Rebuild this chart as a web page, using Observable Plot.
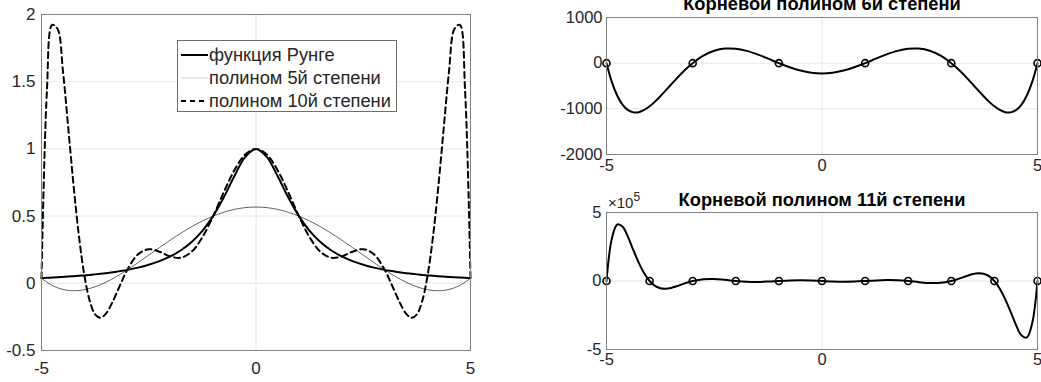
<!DOCTYPE html>
<html>
<head>
<meta charset="utf-8">
<script src="https://cdn.jsdelivr.net/npm/d3@7"></script>
<script src="https://cdn.jsdelivr.net/npm/@observablehq/plot@0.6"></script>
<style>
  body { margin: 0; background: #fff; }
  #wrap { position: relative; width: 1041px; height: 382px; overflow: hidden; background: #fff;
          font-family: "Liberation Sans", Arial, Helvetica, sans-serif; }
  .panel { position: absolute; }
  .panel svg { display: block; }
</style>
</head>
<body>
<div id="wrap"></div>
<script>
// ---- data ----
const xs = [-5,-4.875,-4.75,-4.625,-4.5,-4.375,-4.25,-4.125,-4,-3.875,-3.75,-3.625,-3.5,-3.375,-3.25,-3.125,-3,
  -2.75,-2.5,-2.25,-2,-1.75,-1.5,-1.25,-1,-0.75,-0.5,-0.25,0,0.25,0.5,0.75,1,1.25,1.5,1.75,2,2.25,2.5,2.75,
  3,3.125,3.25,3.375,3.5,3.625,3.75,3.875,4,4.125,4.25,4.375,4.5,4.625,4.75,4.875,5];

const runge = [0.0385,0.0404,0.0424,0.0447,0.0471,0.0497,0.0525,0.0555,0.0588,0.0624,0.0664,0.0707,0.0755,0.0807,0.0865,0.0929,0.1,
  0.1168,0.1379,0.1649,0.2,0.2462,0.3077,0.3902,0.5,0.64,0.8,0.9412,1,0.9412,0.8,0.64,0.5,0.3902,0.3077,0.2462,0.2,0.1649,0.1379,0.1168,
  0.1,0.0929,0.0865,0.0807,0.0755,0.0707,0.0664,0.0624,0.0588,0.0555,0.0525,0.0497,0.0471,0.0447,0.0424,0.0404,0.0385];

const poly5 = [0.0385,0.0082,-0.0157,-0.0337,-0.0460,-0.0533,-0.0558,-0.0539,-0.0481,-0.0386,-0.0260,-0.0104,0.0078,0.0282,0.0506,0.0746,0.1,
  0.1537,0.2097,0.2661,0.3212,0.3733,0.4213,0.4638,0.5,0.5290,0.5501,0.5630,0.5673,0.5630,0.5501,0.5290,0.5,0.4638,0.4213,0.3733,0.3212,0.2661,0.2097,0.1537,
  0.1,0.0746,0.0506,0.0282,0.0078,-0.0104,-0.0260,-0.0386,-0.0481,-0.0539,-0.0558,-0.0533,-0.0460,-0.0337,-0.0157,0.0082,0.0385];

const poly10 = [0.0385,1.4231,1.9236,1.8924,1.5787,1.1517,0.7195,0.3450,0.0588,-0.1312,-0.2315,-0.2569,-0.2262,-0.1588,-0.0726,0.0175,0.1,
  0.2156,0.2538,0.2350,0.2,0.1906,0.2353,0.3426,0.5,0.6790,0.8434,0.9586,1,0.9586,0.8434,0.6790,0.5,0.3426,0.2353,0.1906,0.2,0.2350,0.2538,0.2156,
  0.1,0.0175,-0.0726,-0.1588,-0.2262,-0.2569,-0.2315,-0.1312,0.0588,0.3450,0.7195,1.1517,1.5787,1.8924,1.9236,1.4231,0.0385];

const omega6 = [0,-414.93,-712.83,-911.92,-1028.67,-1077.87,-1072.74,-1025.00,-945,-841.81,-723.29,-596.17,-466.17,-338.06,-215.72,-102.24,0,
  164.50,270.70,318.92,315,268.65,191.95,98.05,0,-90.21,-162.42,-208.95,-225,-208.95,-162.42,-90.21,0,98.05,191.95,268.65,315,318.92,270.70,164.50,
  0,-102.24,-215.72,-338.06,-466.17,-596.17,-723.29,-841.81,-945,-1025.00,-1072.74,-1077.87,-1028.67,-911.92,-712.83,-414.93,0];

const omega11 = [0,310488,412461,395387,319692,224238,132233,55891,0,-35372,-52880,-56484,-50478,-38868,-25017,-11485,0,
  13598,14846,8339,0,-5702,-6928,-4313,0,3590,4797,3278,0,-3278,-4797,-3590,0,4313,6928,5702,0,-8339,-14846,-13598,
  0,11485,25017,38868,50478,56484,52880,35372,0,-55891,-132233,-224238,-319692,-395387,-412461,-310488,0];

const nodes6 = [-5,-3,-1,1,3,5];
const nodes6Y = [0,0,0,0,0,0];
const nodes11 = [-5,-4,-3,-2,-1,0,1,2,3,4,5];
const nodes11Y = [0,0,0,0,0,0,0,0,0,0,0];

const legendLabels = ["функция Рунге", "полином 5й степени", "полином 10й степени"];
const titleTop = "Корневой полином 6й степени";
const titleBottom = "Корневой полином 11й степени";

const xTicks = [-5, 0, 5];
const yTicksA = [-0.5, 0, 0.5, 1, 1.5, 2];
const yTicksB = [-2000, -1000, 0, 1000];
const yTicksC = [-500000, 0, 500000];

// ---- layout ----
const FONT = '"Liberation Sans", Arial, Helvetica, sans-serif';
const TXT = "#262626";
const GRID = "#e6e6e6";
const FRAME = "#808080";
const wrap = document.getElementById("wrap");

function place(node, left, top) {
  const d = document.createElement("div");
  d.className = "panel";
  d.style.left = left + "px";
  d.style.top = top + "px";
  d.appendChild(node);
  wrap.appendChild(d);
  return d;
}

const rowsA = xs.map((x, i) => ({x, runge: runge[i], p5: poly5[i], p10: poly10[i]}));
const rowsB = xs.map((x, i) => ({x, y: omega6[i]}));
const rowsC = xs.map((x, i) => ({x, y: omega11[i]}));
const dots6 = nodes6.map((x, i) => ({x, y: nodes6Y[i]}));
const dots11 = nodes11.map((x, i) => ({x, y: nodes11Y[i]}));

const styleA = {fontFamily: FONT, fontSize: "17px", color: TXT, background: "transparent", overflow: "visible"};
const styleR = {fontFamily: FONT, fontSize: "16.5px", color: TXT, background: "transparent", overflow: "visible"};

// Left panel
const plotA = Plot.plot({
  width: 480, height: 382,
  marginLeft: 41, marginRight: 10, marginTop: 14, marginBottom: 32,
  style: styleA,
  x: {domain: [-5, 5], ticks: xTicks, tickSize: 0, tickPadding: 11, label: null, tickFormat: d => String(d)},
  y: {domain: [-0.5, 2], ticks: yTicksA, tickSize: 0, tickPadding: 6, label: null, tickFormat: d => String(d)},
  marks: [
    Plot.gridY(yTicksA, {stroke: GRID, strokeOpacity: 1}),
    Plot.gridX(xTicks, {stroke: GRID, strokeOpacity: 1}),
    Plot.line(rowsA, {x: "x", y: "p5", stroke: "#3a3a3a", strokeWidth: 0.8, curve: "catmull-rom"}),
    Plot.line(rowsA, {x: "x", y: "runge", stroke: "#000", strokeWidth: 2, curve: "catmull-rom"}),
    Plot.line(rowsA, {x: "x", y: "p10", stroke: "#000", strokeWidth: 2, strokeDasharray: "6,4", curve: "catmull-rom"}),
    Plot.frame({stroke: FRAME})
  ]
});
place(plotA, 0, 0);

// Legend
(function () {
  const div = document.createElement("div");
  const svg = d3.select(div).append("svg").attr("width", 222).attr("height", 74)
    .style("font-family", FONT).style("overflow", "visible");
  svg.append("rect").attr("x", 0.5).attr("y", 0.5).attr("width", 219).attr("height", 71)
    .attr("fill", "#fff").attr("stroke", "#6e6e6e");
  const styles = [
    {stroke: "#000", w: 2, dash: null},
    {stroke: "#c8c8c8", w: 0.8, dash: null},
    {stroke: "#000", w: 2, dash: "5,4"}
  ];
  legendLabels.forEach((lab, i) => {
    const cy = 15 + i * 23;
    svg.append("line").attr("x1", 4).attr("x2", 31).attr("y1", cy).attr("y2", cy)
      .attr("stroke", styles[i].stroke).attr("stroke-width", styles[i].w)
      .attr("stroke-dasharray", styles[i].dash);
    svg.append("text").attr("x", 32).attr("y", cy).attr("dy", "0.35em")
      .attr("font-size", 18.3).attr("fill", TXT).text(lab);
  });
  place(div, 177, 40);
})();

// Right top panel
const plotB = Plot.plot({
  width: 511, height: 185,
  marginLeft: 76, marginRight: 4, marginTop: 17, marginBottom: 31,
  style: styleR,
  x: {domain: [-5, 5], ticks: xTicks, tickSize: 0, tickPadding: 5, label: null, tickFormat: d => String(d)},
  y: {domain: [-2000, 1000], ticks: yTicksB, tickSize: 0, tickPadding: 4, label: null, tickFormat: d => String(d)},
  marks: [
    Plot.gridY(yTicksB, {stroke: GRID, strokeOpacity: 1}),
    Plot.gridX(xTicks, {stroke: GRID, strokeOpacity: 1}),
    Plot.line(rowsB, {x: "x", y: "y", stroke: "#000", strokeWidth: 2, curve: "catmull-rom"}),
    Plot.dot(dots6, {x: "x", y: "y", r: 3.5, stroke: "#000", strokeWidth: 1.6, fill: "none"}),
    Plot.frame({stroke: FRAME}),
    Plot.text([titleTop], {frameAnchor: "top", lineAnchor: "bottom", dy: -8, text: d => d,
      fontWeight: "bold", fontSize: 18.3, fill: "#000"})
  ]
});
place(plotB, 530, 0);

// Right bottom panel
const plotC = Plot.plot({
  width: 511, height: 197,
  marginLeft: 76, marginRight: 4, marginTop: 27, marginBottom: 33,
  style: styleR,
  x: {domain: [-5, 5], ticks: xTicks, tickSize: 0, tickPadding: 4, label: null, tickFormat: d => String(d)},
  y: {domain: [-500000, 500000], ticks: yTicksC, tickSize: 0, tickPadding: 5, label: null, tickFormat: d => String(d / 1e5)},
  marks: [
    Plot.gridY(yTicksC, {stroke: GRID, strokeOpacity: 1}),
    Plot.gridX(xTicks, {stroke: GRID, strokeOpacity: 1}),
    Plot.line(rowsC, {x: "x", y: "y", stroke: "#000", strokeWidth: 2, curve: "catmull-rom"}),
    Plot.dot(dots11, {x: "x", y: "y", r: 3.5, stroke: "#000", strokeWidth: 1.6, fill: "none"}),
    Plot.frame({stroke: FRAME}),
    Plot.text([titleBottom], {frameAnchor: "top", lineAnchor: "bottom", dy: -7, text: d => d,
      fontWeight: "bold", fontSize: 18.3, fill: "#000"})
  ]
});
place(plotC, 530, 185);

// exponent label
(function () {
  const d = document.createElement("div");
  d.style.fontFamily = FONT;
  d.style.fontSize = "15px";
  d.style.color = TXT;
  d.style.whiteSpace = "nowrap";
  d.style.lineHeight = "15px";
  d.innerHTML = "×10<sup style=\"font-size:12px;vertical-align:7px;\">5</sup>";
  place(d, 608, 190);
})();
</script>
</body>
</html>
